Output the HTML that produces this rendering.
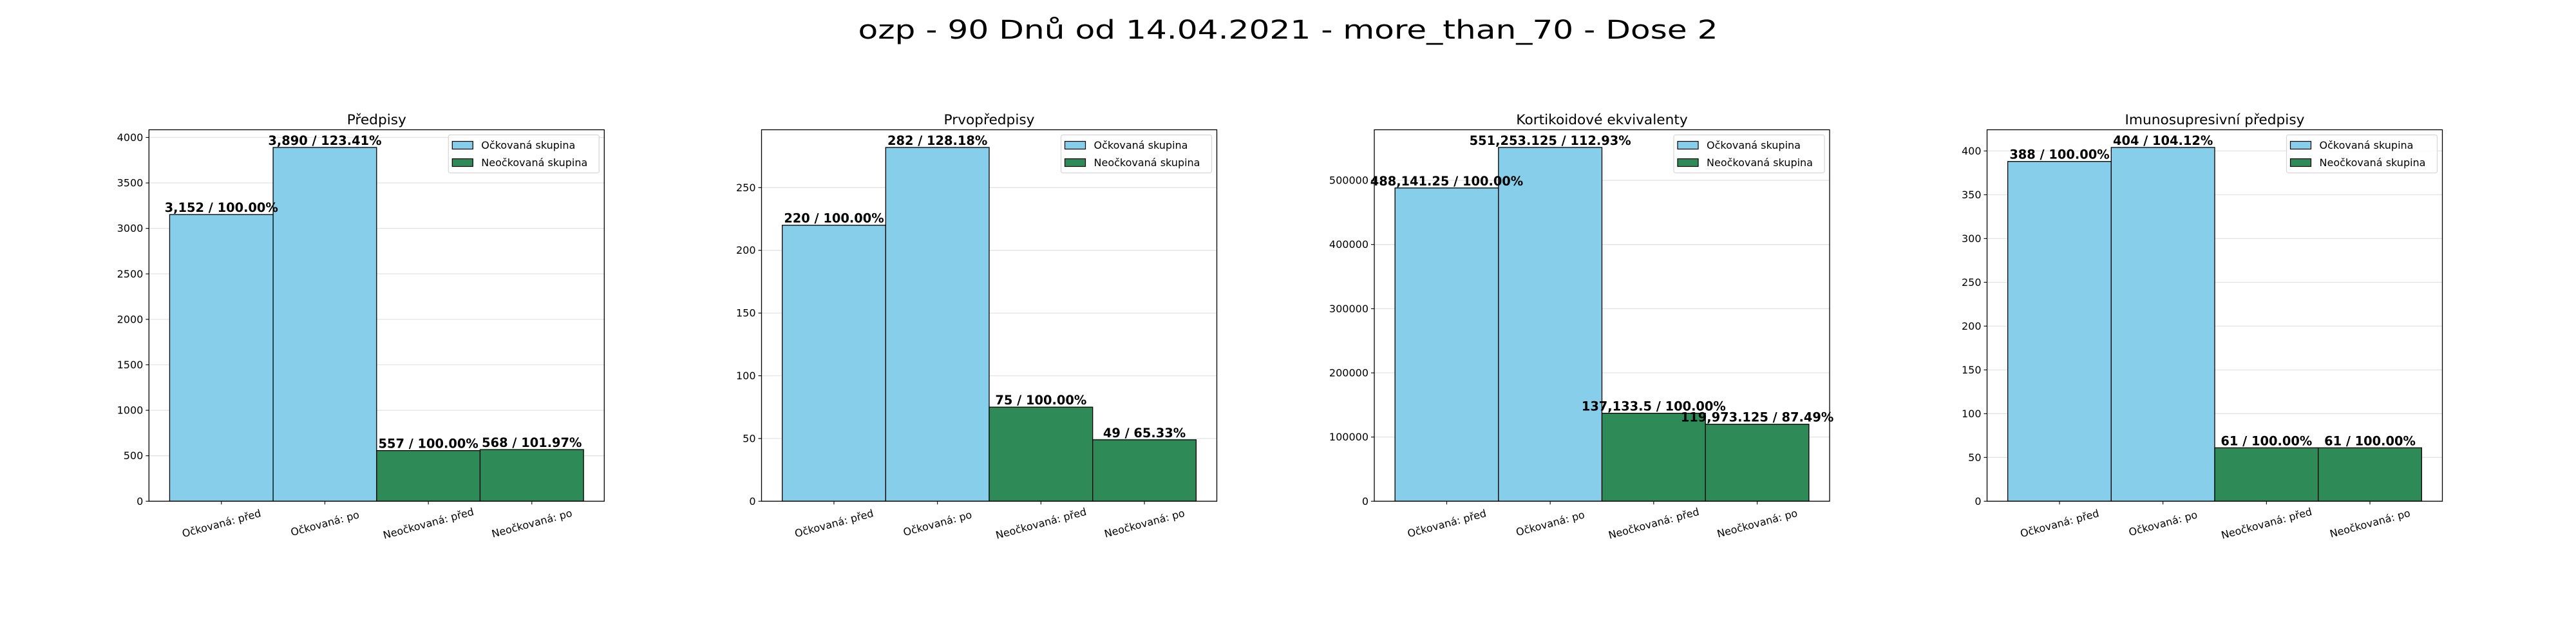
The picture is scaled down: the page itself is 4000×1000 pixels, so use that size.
<!DOCTYPE html>
<html><head><meta charset="utf-8"><style>
html,body{margin:0;padding:0;background:#fff;width:4000px;height:1000px;overflow:hidden}
svg text{font-family:"DejaVu Sans","Liberation Sans",sans-serif}
</style></head><body>
<svg id="fig" width="4000" height="1000" xmlns="http://www.w3.org/2000/svg">
<rect width="4000" height="1000" fill="#fff"/>
<text x="2000" y="60" font-size="40" text-anchor="middle" textLength="1335" lengthAdjust="spacingAndGlyphs" style="font-family:'DejaVu Sans Condensed','DejaVu Sans',sans-serif">ozp - 90 Dnů od 14.04.2021 - more_than_70 - Dose 2</text>
</svg>
<script>
const categories = ["Očkovaná: před", "Očkovaná: po", "Neočkovaná: před", "Neočkovaná: po"];
const panelTitles = ["Předpisy", "Prvopředpisy", "Kortikoidové ekvivalenty", "Imunosupresivní předpisy"];
const valuesPredpisy = [3152, 3890, 557, 568];
const valuesPrvopredpisy = [220, 282, 75, 49];
const valuesKortikoidy = [488141.25, 551253.125, 137133.5, 119973.125];
const valuesImuno = [388, 404, 61, 61];
const ticksPredpisy = [0, 500, 1000, 1500, 2000, 2500, 3000, 3500, 4000];
const ticksPrvopredpisy = [0, 50, 100, 150, 200, 250];
const ticksKortikoidy = [0, 100000, 200000, 300000, 400000, 500000];
const ticksImuno = [0, 50, 100, 150, 200, 250, 300, 350, 400];
const legendLabels = ["Očkovaná skupina", "Neočkovaná skupina"];

const NS = "http://www.w3.org/2000/svg";
const svg = document.getElementById("fig");
const COLORS = ["#87CEEB", "#87CEEB", "#2E8B57", "#2E8B57"];
const LEG_COLORS = ["#87CEEB", "#2E8B57"];
const AX_LEFTS = [231.3, 1182.5, 2134, 3085.5];
const AX_W = 707, AX_TOP = 201.5, AX_BOT = 778.3;

function el(tag, attrs, parent) {
  const e = document.createElementNS(NS, tag);
  for (const k in attrs) e.setAttribute(k, attrs[k]);
  (parent || svg).appendChild(e);
  return e;
}
function fmt(v) { return v.toLocaleString("en-US", {maximumFractionDigits: 3}); }

function panel(idx, vals, ticks, title) {
  const g = el("g", {});
  
  
  const x0 = AX_LEFTS[idx];
  const ymax = Math.max(...vals) * 1.05;
  const yS = v => AX_BOT - v / ymax * (AX_BOT - AX_TOP);
  const unit = AX_W / 4.4;
  const xS = i => x0 + (i + 0.7) * unit;
  ticks.forEach(t => {
    const y = yS(t);
    const gl = el("line", {x1: x0, x2: x0 + AX_W, y1: y, y2: y, stroke: "#e3e3e3", "stroke-width": 1.3}, g);
    
    
    const tk = el("line", {x1: x0 - 5, x2: x0, y1: y, y2: y, stroke: "#000", "stroke-width": 1.1}, g);
    
    
    const tl = el("text", {x: x0 - 9, y: y + 5.5, "font-size": 16, "text-anchor": "end"}, g);
    
    
    tl.textContent = String(t);
  });
  vals.forEach((v, i) => {
    const xl = xS(i) - unit / 2, yt = yS(v);
    const b = el("rect", {x: xl, y: yt, width: unit, height: AX_BOT - yt, fill: COLORS[i], stroke: "#000", "stroke-width": 1.3}, g);
    
    
  });
  vals.forEach((v, i) => {
    const base = i < 2 ? vals[0] : vals[2];
    const lbl = el("text", {x: xS(i), y: yS(v) - 4, "font-size": 19.4, "font-weight": "bold", "text-anchor": "middle"}, g);
    
    
    lbl.textContent = fmt(v) + " / " + (v / base * 100).toFixed(2) + "%";
  });
  const fr = el("rect", {x: x0, y: AX_TOP, width: AX_W, height: AX_BOT - AX_TOP, fill: "none", stroke: "#000", "stroke-width": 1.3}, g);
  
  
  categories.forEach((c, i) => {
    const x = xS(i);
    const tk = el("line", {x1: x, x2: x, y1: AX_BOT, y2: AX_BOT + 5, stroke: "#000", "stroke-width": 1.1}, g);
    
    
    const tl = el("text", {x: x, y: AX_BOT + 40, "font-size": 16, "text-anchor": "middle", transform: `rotate(-15 ${x} ${AX_BOT + 34})`}, g);
    
    
    tl.textContent = c;
  });
  const t = el("text", {x: x0 + AX_W / 2, y: 193, "font-size": 21.7, "text-anchor": "middle"}, g);
  
  
  t.textContent = title;
  const lx = x0 + AX_W - 8 - 234, ly = AX_TOP + 8;
  const lg = el("g", {}, g);
  
  
  el("rect", {x: lx, y: ly, width: 234, height: 59, rx: 3, fill: "#fff", "fill-opacity": 0.8, stroke: "#d6d6d6", "stroke-width": 1.2}, lg);
  legendLabels.forEach((s, k) => {
    const cy = ly + 16 + k * 27;
    const p = el("rect", {x: lx + 6, y: cy - 6, width: 32, height: 12, fill: LEG_COLORS[k], stroke: "#000", "stroke-width": 1.2}, lg);
    
    
    const lt = el("text", {x: lx + 51, y: cy + 5.5, "font-size": 16}, lg);
    
    
    lt.textContent = s;
  });
}
panel(0, valuesPredpisy, ticksPredpisy, panelTitles[0]);
panel(1, valuesPrvopredpisy, ticksPrvopredpisy, panelTitles[1]);
panel(2, valuesKortikoidy, ticksKortikoidy, panelTitles[2]);
panel(3, valuesImuno, ticksImuno, panelTitles[3]);
</script>
</body></html>
